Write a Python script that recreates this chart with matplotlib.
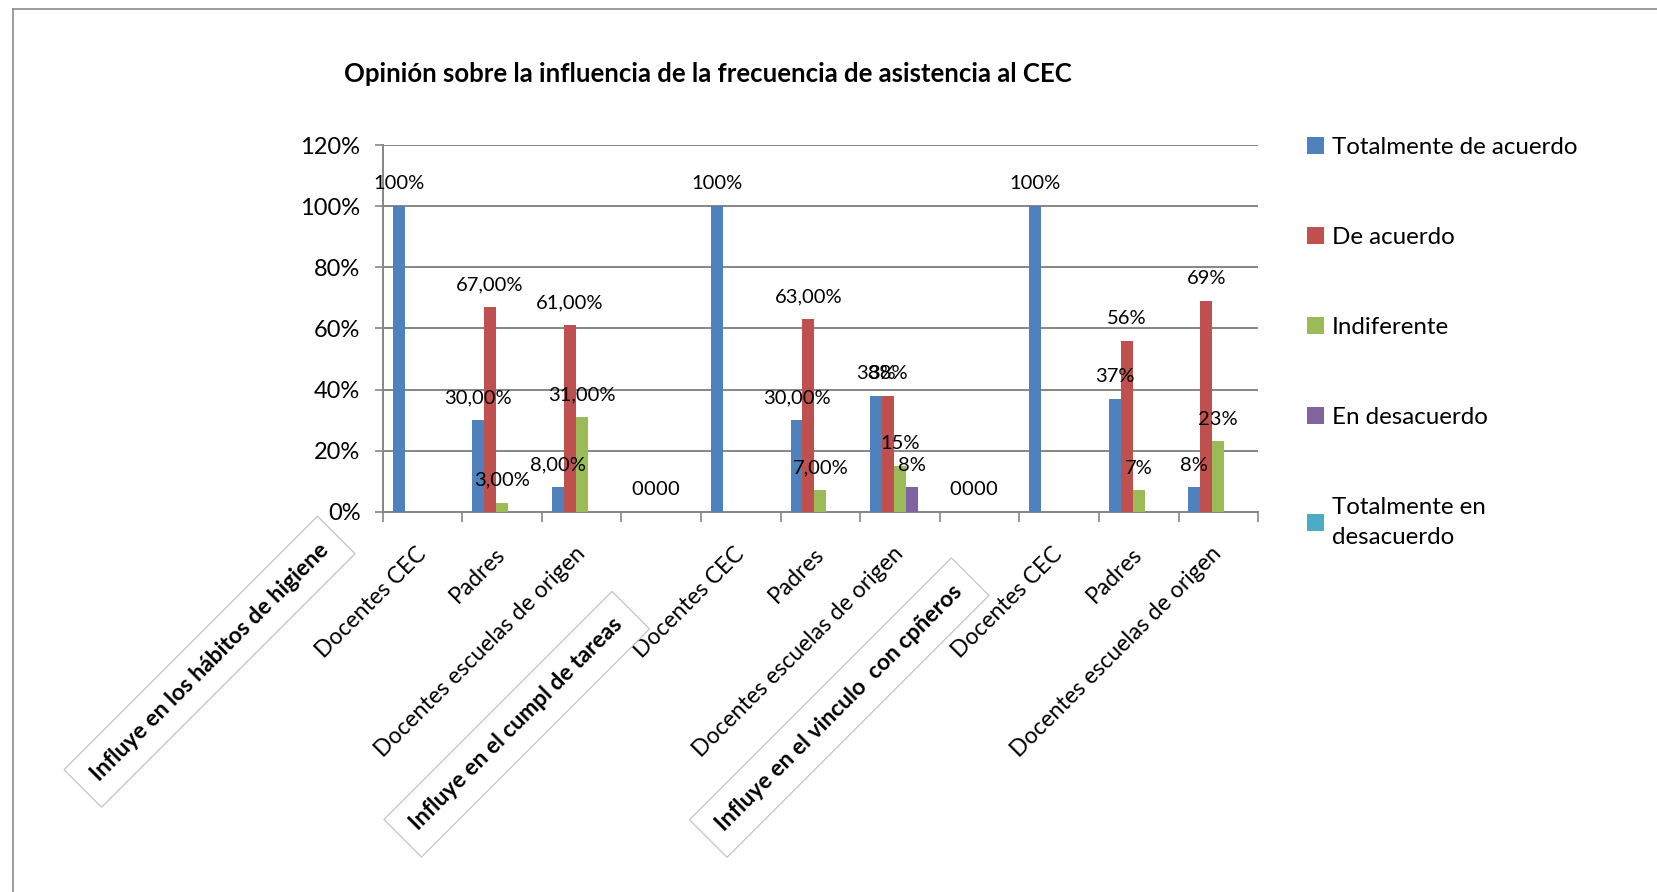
import matplotlib
matplotlib.use('Agg')
import matplotlib.pyplot as plt
import numpy as np

plt.rcParams['font.family'] = ['Lato', 'DejaVu Sans']

# datos del grafico (None = sin barra)
categorias = ['Docentes CEC', 'Padres', 'Docentes escuelas de origen', '',
              'Docentes CEC', 'Padres', 'Docentes escuelas de origen', '',
              'Docentes CEC', 'Padres', 'Docentes escuelas de origen']
grupos = ['Influye en los hábitos de higiene',
          'Influye en el cumpl de tareas',
          'Influye en el vinculo  con cpñeros']
pos_grupos = [-1, 3, 7]

series = ['Totalmente de acuerdo', 'De acuerdo', 'Indiferente',
          'En desacuerdo', 'Totalmente en\ndesacuerdo']
tot_acuerdo = [100, 30, 8, 0, 100, 30, 38, 0, 100, 37, 8]
de_acuerdo = [None, 67, 61, 0, None, 63, 38, 0, None, 56, 69]
indiferente = [None, 3, 31, 0, None, 7, 15, 0, None, 7, 23]
en_desacuerdo = [None, None, None, 0, None, None, 8, 0, None, None, None]
tot_desacuerdo = [None] * 11
# decimales usados en las etiquetas de cada categoria
decimales = [0, 2, 2, 0, 0, 2, 0, 0, 0, 0, 0]

colores = ['#4F81BD', '#C0504D', '#9BBB59', '#8064A2', '#4BACC6']
gris = '#868686'

fig = plt.figure(figsize=(16.58, 8.92), dpi=100)
ax = fig.add_axes([0.2308, 0.4263, 0.528, 0.4111])

x = np.arange(len(categorias))
w = 0.15
datos = [tot_acuerdo, de_acuerdo, indiferente, en_desacuerdo, tot_desacuerdo]
handles = []
for i, vals in enumerate(datos):
    h = np.array([np.nan if v is None else v for v in vals], dtype=float)
    b = ax.bar(x + (i - 2) * w, h, w, color=colores[i], zorder=3)
    handles.append(b)
    for j, v in enumerate(vals):
        if v is None:
            continue
        if v == 0:
            txt = '0'
        elif decimales[j] == 2:
            txt = ('%.2f' % v).replace('.', ',') + '%'
        else:
            txt = '%d%%' % v
        ax.annotate(txt, (x[j] + (i - 2) * w, v), xytext=(0, 16),
                    textcoords='offset points', ha='center', va='center',
                    fontsize=14.5, zorder=5)

ax.set_xlim(-0.5, len(categorias) - 0.5)
ax.set_ylim(0, 120)
ax.set_yticks(range(0, 121, 20))
ax.set_yticklabels(['%d%%' % t for t in range(0, 121, 20)], fontsize=17)
ax.yaxis.grid(True, color=gris, lw=1.4, zorder=0)
ax.set_axisbelow(True)
ax.tick_params(axis='y', length=6, color=gris, width=1.2, pad=10)

ax.set_xticks(x)
ax.set_xticklabels(categorias, rotation=45, ha='right', va='center',
                   rotation_mode='anchor', fontsize=16.5)
ax.set_xticks(np.arange(-0.5, len(categorias)), minor=True)
ax.tick_params(axis='x', which='major', length=0, pad=28)
ax.tick_params(axis='x', which='minor', length=7, color=gris, width=1.2)

for s in ['top', 'right']:
    ax.spines[s].set_visible(False)
for s in ['left', 'bottom']:
    ax.spines[s].set_color(gris)
    ax.spines[s].set_linewidth(1.4)

# etiquetas de grupo giradas con recuadro
despl = [(-96, -108), (-104, -153), (-101, -141)]
for g, p, d in zip(grupos, pos_grupos, despl):
    ax.annotate(g, (p, 0), xycoords=('data', 'axes fraction'), xytext=d,
                textcoords='offset points', rotation=45, ha='center', va='center',
                fontsize=16.5, fontweight='bold', zorder=6,
                bbox=dict(boxstyle='square,pad=0.7', fc='white', ec='#c4c4c4', lw=0.9))

fig.text(708 / 1658, 1 - 74 / 892,
         'Opinión sobre la influencia de la frecuencia de asistencia al CEC',
         ha='center', va='center', fontsize=18.5, fontweight='bold')

leg = fig.legend(handles, series, loc='upper left',
                 bbox_to_anchor=(1285 / 1658, 1 - 115 / 892), frameon=False,
                 fontsize=17.4, handlelength=0.7, handleheight=0.7,
                 handletextpad=0.35, labelspacing=2.86)
for t in leg.get_texts():
    t.set_linespacing(1.5)

# borde del area del grafico
fig.add_artist(plt.Line2D([13 / 1658, 13 / 1658], [0, 1 - 9 / 892], color='#8c8c8c', lw=1.2))
fig.add_artist(plt.Line2D([13 / 1658, 1], [1 - 9 / 892, 1 - 9 / 892], color='#8c8c8c', lw=1.2))

fig.savefig('out.png', dpi=100)
